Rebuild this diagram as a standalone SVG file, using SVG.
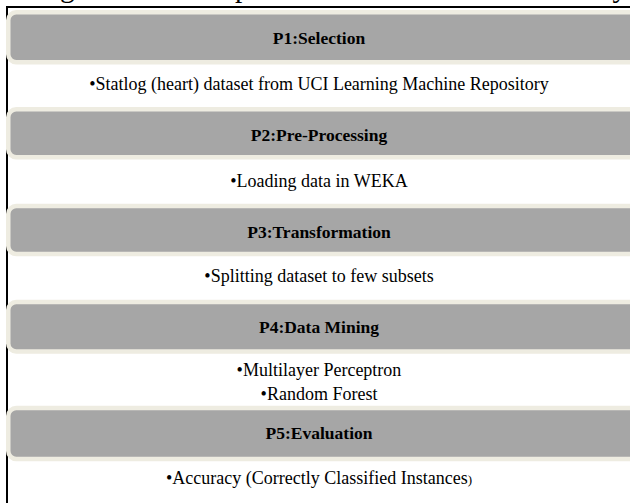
<svg xmlns="http://www.w3.org/2000/svg" width="630" height="503" viewBox="0 0 630 503">
<style>
.bar{fill:#A6A6A6;stroke:#EEECE1;stroke-width:4.5}
.hd{font-family:"Liberation Serif","Times New Roman",serif;font-weight:bold;font-size:17.5px;fill:#000;text-anchor:middle}
.tx{font-family:"Liberation Serif","Times New Roman",serif;font-size:18px;fill:#000;text-anchor:middle}
.cap{font-family:"Liberation Serif","Times New Roman",serif;font-size:29.3px;fill:#000}
</style>
<rect width="630" height="503" fill="#FFFFFF"/>
<text class="cap" x="35.5" y="-3">Fig. 1 shows the phases of KDD used in this study.</text>
<g id="connectors">
<line x1="6" y1="7" x2="630" y2="7" stroke="#000" stroke-width="2"/>
<line x1="7" y1="6" x2="7" y2="503" stroke="#000" stroke-width="2"/>
</g>
<g id="p1">
<rect class="bar" x="8.25" y="12.25" width="640" height="50" rx="8"/>
<text class="hd" x="319" y="44">P1:Selection</text>
<text class="tx" x="319" y="90">•Statlog (heart) dataset from UCI Learning Machine Repository</text>
</g>
<g id="p2">
<rect class="bar" x="8.25" y="109.25" width="640" height="48" rx="8"/>
<text class="hd" x="319" y="141">P2:Pre-Processing</text>
<text class="tx" x="319" y="187">•Loading data in WEKA</text>
</g>
<g id="p3">
<rect class="bar" x="8.25" y="206" width="640" height="48" rx="8"/>
<text class="hd" x="319" y="238">P3:Transformation</text>
<text class="tx" x="319" y="282">•Splitting dataset to few subsets</text>
</g>
<g id="p4">
<rect class="bar" x="8.25" y="302" width="640" height="49.5" rx="8"/>
<text class="hd" x="319" y="333">P4:Data Mining</text>
<text class="tx" x="319" y="376">•Multilayer Perceptron</text>
<text class="tx" x="319" y="400">•Random Forest</text>
</g>
<g id="p5">
<rect class="bar" x="8.25" y="408" width="640" height="51" rx="8"/>
<text class="hd" x="319" y="439">P5:Evaluation</text>
<text class="tx" x="319" y="484">•Accuracy (Correctly Classified Instances<tspan font-size="13">)</tspan></text>
</g>
</svg>
